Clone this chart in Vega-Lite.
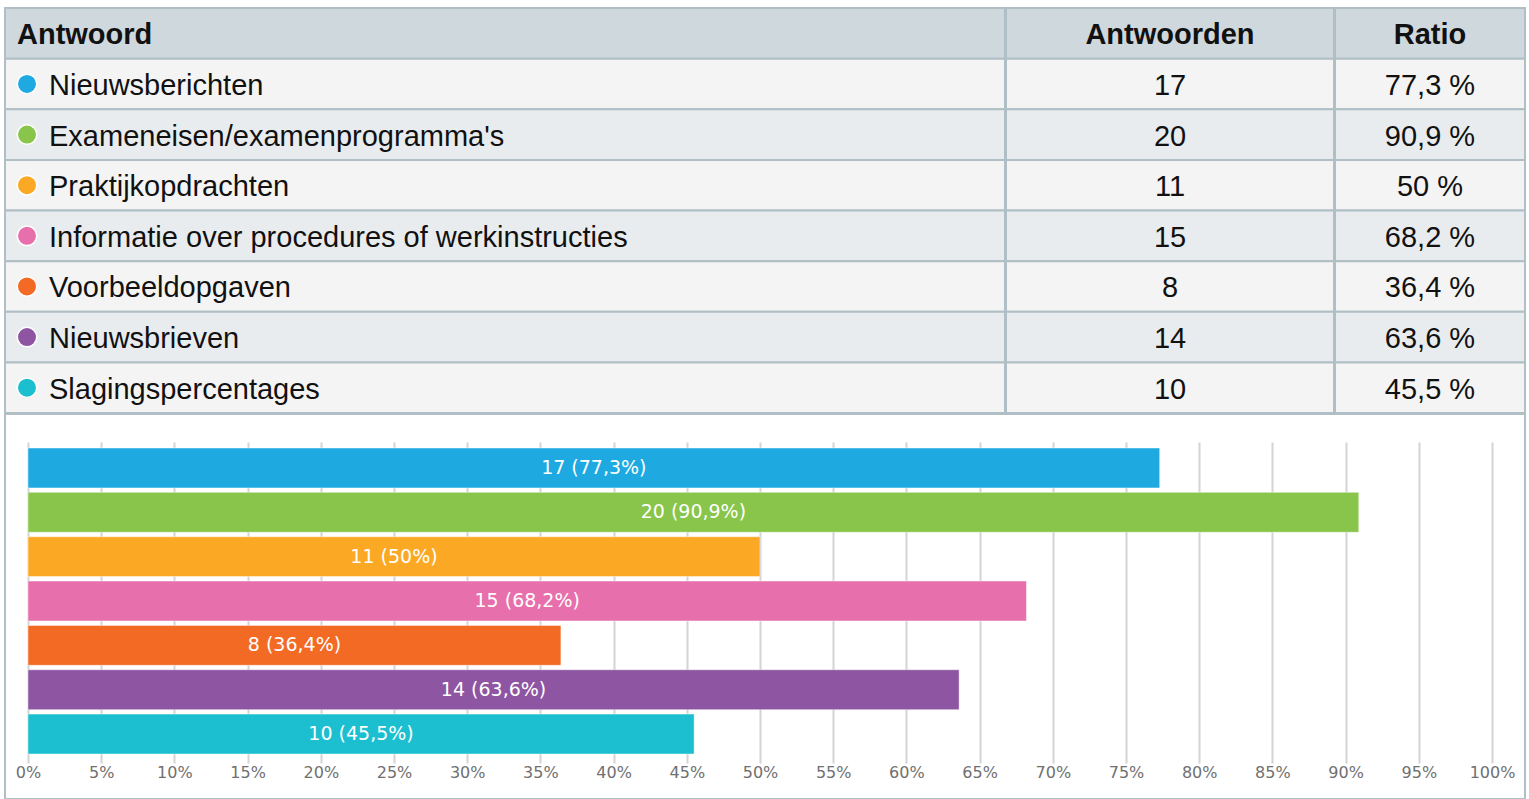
{
  "$schema": "https://vega.github.io/schema/vega-lite/v6.json",
  "padding": {"left": 4, "top": 7, "right": 2, "bottom": 0},
  "background": "white",
  "config": {"view": {"stroke": null}},
  "datasets": {
    "antwoorden": [
      {"antwoord": "Nieuwsberichten", "aantal": 17, "ratio": 77.3, "ratio_tekst": "77,3 %", "label": "17 (77,3%)"},
      {"antwoord": "Exameneisen/examenprogramma's", "aantal": 20, "ratio": 90.9, "ratio_tekst": "90,9 %", "label": "20 (90,9%)"},
      {"antwoord": "Praktijkopdrachten", "aantal": 11, "ratio": 50, "ratio_tekst": "50 %", "label": "11 (50%)"},
      {"antwoord": "Informatie over procedures of werkinstructies", "aantal": 15, "ratio": 68.2, "ratio_tekst": "68,2 %", "label": "15 (68,2%)"},
      {"antwoord": "Voorbeeldopgaven", "aantal": 8, "ratio": 36.4, "ratio_tekst": "36,4 %", "label": "8 (36,4%)"},
      {"antwoord": "Nieuwsbrieven", "aantal": 14, "ratio": 63.6, "ratio_tekst": "63,6 %", "label": "14 (63,6%)"},
      {"antwoord": "Slagingspercentages", "aantal": 10, "ratio": 45.5, "ratio_tekst": "45,5 %", "label": "10 (45,5%)"}
    ]
  },
  "spacing": -2,
  "resolve": {"scale": {"x": "independent", "y": "independent", "color": "independent", "fill": "independent"}},
  "vconcat": [
    {
      "spacing": -2,
      "resolve": {"scale": {"y": "shared", "fill": "shared", "color": "shared"}},
      "hconcat": [
        {
          "width": 1000,
          "height": 405,
          "layer": [
            {
              "data": {"values": [{"kolom": "Antwoord"}]},
              "mark": {"type": "rect", "fill": "#CFD8DC", "stroke": "#B0BEC5", "strokeWidth": 2},
              "encoding": {
                "y": {"datum": "kop", "type": "nominal", "scale": {"domain": ["kop", "Nieuwsberichten", "Exameneisen/examenprogramma's", "Praktijkopdrachten", "Informatie over procedures of werkinstructies", "Voorbeeldopgaven", "Nieuwsbrieven", "Slagingspercentages"], "paddingInner": 0, "paddingOuter": 0}, "axis": null},
                "x": {"value": 0},
                "x2": {"value": "width"}
              }
            },
            {
              "data": {"values": [{"kolom": "Antwoord"}]},
              "mark": {"type": "text", "font": "Liberation Sans", "fontSize": 29, "fontWeight": "bold", "align": "left", "baseline": "middle", "dy": 2, "color": "#111111"},
              "encoding": {
                "y": {"datum": "kop", "type": "nominal"},
                "x": {"value": 12},
                "text": {"field": "kolom"}
              }
            },
            {
              "data": {"name": "antwoorden"},
              "mark": {"type": "rect", "stroke": "#B0BEC5", "strokeWidth": 2},
              "encoding": {
                "y": {"field": "antwoord", "type": "nominal"},
                "x": {"value": 0},
                "x2": {"value": "width"},
                "fill": {"field": "antwoord", "type": "nominal", "legend": null, "scale": {"domain": ["Nieuwsberichten", "Exameneisen/examenprogramma's", "Praktijkopdrachten", "Informatie over procedures of werkinstructies", "Voorbeeldopgaven", "Nieuwsbrieven", "Slagingspercentages"], "range": ["#F4F4F4", "#E9ECEE", "#F4F4F4", "#E9ECEE", "#F4F4F4", "#E9ECEE", "#F4F4F4"]}}
              }
            },
            {
              "data": {"name": "antwoorden"},
              "mark": {"type": "point", "shape": "circle", "filled": true, "size": 380, "opacity": 1, "stroke": "white", "strokeWidth": 1.5},
              "encoding": {
                "y": {"field": "antwoord", "type": "nominal"},
                "x": {"value": 22},
                "color": {"field": "antwoord", "type": "nominal", "legend": null, "scale": {"domain": ["Nieuwsberichten", "Exameneisen/examenprogramma's", "Praktijkopdrachten", "Informatie over procedures of werkinstructies", "Voorbeeldopgaven", "Nieuwsbrieven", "Slagingspercentages"], "range": ["#1EA9E1", "#88C54A", "#FBA925", "#E76FAB", "#F26A24", "#8E55A2", "#1CBFCF"]}}
              }
            },
            {
              "data": {"name": "antwoorden"},
              "mark": {"type": "text", "font": "Liberation Sans", "fontSize": 29, "align": "left", "baseline": "middle", "dy": 2, "color": "#111111"},
              "encoding": {
                "y": {"field": "antwoord", "type": "nominal"},
                "x": {"value": 44},
                "text": {"field": "antwoord"}
              }
            }
          ]
        },
        {
          "width": 328,
          "height": 405,
          "layer": [
            {
              "data": {"values": [{"kolom": "Antwoorden"}]},
              "mark": {"type": "rect", "fill": "#CFD8DC", "stroke": "#B0BEC5", "strokeWidth": 2},
              "encoding": {
                "y": {"datum": "kop", "type": "nominal", "axis": null},
                "x": {"value": 0},
                "x2": {"value": "width"}
              }
            },
            {
              "data": {"values": [{"kolom": "Antwoorden"}]},
              "mark": {"type": "text", "font": "Liberation Sans", "fontSize": 29, "fontWeight": "bold", "align": "center", "baseline": "middle", "dy": 2, "color": "#111111"},
              "encoding": {
                "y": {"datum": "kop", "type": "nominal"},
                "text": {"field": "kolom"}
              }
            },
            {
              "data": {"name": "antwoorden"},
              "mark": {"type": "rect", "stroke": "#B0BEC5", "strokeWidth": 2},
              "encoding": {
                "y": {"field": "antwoord", "type": "nominal"},
                "x": {"value": 0},
                "x2": {"value": "width"},
                "fill": {"field": "antwoord", "type": "nominal", "legend": null}
              }
            },
            {
              "data": {"name": "antwoorden"},
              "mark": {"type": "text", "font": "Liberation Sans", "fontSize": 29, "align": "center", "baseline": "middle", "dy": 2, "color": "#111111"},
              "encoding": {
                "y": {"field": "antwoord", "type": "nominal"},
                "text": {"field": "aantal", "type": "quantitative"}
              }
            }
          ]
        },
        {
          "width": 190,
          "height": 405,
          "layer": [
            {
              "data": {"values": [{"kolom": "Ratio"}]},
              "mark": {"type": "rect", "fill": "#CFD8DC", "stroke": "#B0BEC5", "strokeWidth": 2},
              "encoding": {
                "y": {"datum": "kop", "type": "nominal", "axis": null},
                "x": {"value": 0},
                "x2": {"value": "width"}
              }
            },
            {
              "data": {"values": [{"kolom": "Ratio"}]},
              "mark": {"type": "text", "font": "Liberation Sans", "fontSize": 29, "fontWeight": "bold", "align": "center", "baseline": "middle", "dy": 2, "color": "#111111"},
              "encoding": {
                "y": {"datum": "kop", "type": "nominal"},
                "text": {"field": "kolom"}
              }
            },
            {
              "data": {"name": "antwoorden"},
              "mark": {"type": "rect", "stroke": "#B0BEC5", "strokeWidth": 2},
              "encoding": {
                "y": {"field": "antwoord", "type": "nominal"},
                "x": {"value": 0},
                "x2": {"value": "width"},
                "fill": {"field": "antwoord", "type": "nominal", "legend": null}
              }
            },
            {
              "data": {"name": "antwoorden"},
              "mark": {"type": "text", "font": "Liberation Sans", "fontSize": 29, "align": "center", "baseline": "middle", "dy": 2, "color": "#111111"},
              "encoding": {
                "y": {"field": "antwoord", "type": "nominal"},
                "text": {"field": "ratio_tekst"}
              }
            }
          ]
        }
      ]
    },
    {
      "width": 1520,
      "height": 385,
      "view": {"stroke": "#B0BEC5", "strokeWidth": 2},
      "data": {"name": "antwoorden"},
      "resolve": {"scale": {"x": "independent"}},
      "layer": [
        {
          "mark": {"type": "bar", "stroke": "white", "strokeOpacity": 0.45, "strokeWidth": 1},
          "encoding": {
            "y": {"field": "antwoord", "type": "nominal", "sort": null, "axis": null, "scale": {"domain": ["Nieuwsberichten", "Exameneisen/examenprogramma's", "Praktijkopdrachten", "Informatie over procedures of werkinstructies", "Voorbeeldopgaven", "Nieuwsbrieven", "Slagingspercentages"], "range": [34, 340], "paddingInner": 0.1, "paddingOuter": 0}},
            "x": {
              "field": "ratio", "type": "quantitative",
              "scale": {"domain": [0, 100], "range": [23, 1487], "nice": false},
              "axis": {
                "orient": "bottom", "offset": -36, "zindex": 0,
                "values": [0, 5, 10, 15, 20, 25, 30, 35, 40, 45, 50, 55, 60, 65, 70, 75, 80, 85, 90, 95, 100],
                "domain": false, "grid": false, "ticks": true, "tickSize": -321, "tickColor": "#D4D4D4", "tickWidth": 2,
                "labelExpr": "datum.value + '%'", "labelFont": "DejaVu Sans", "labelFontSize": 16, "labelColor": "#707070",
                "labelPadding": 322, "labelBaseline": "top", "labelFlush": false, "labelOverlap": false, "title": null
              }
            },
            "color": {"field": "antwoord", "type": "nominal", "legend": null, "scale": {"domain": ["Nieuwsberichten", "Exameneisen/examenprogramma's", "Praktijkopdrachten", "Informatie over procedures of werkinstructies", "Voorbeeldopgaven", "Nieuwsbrieven", "Slagingspercentages"], "range": ["#1EA9E1", "#88C54A", "#FBA925", "#E76FAB", "#F26A24", "#8E55A2", "#1CBFCF"]}}
          }
        },
        {
          "mark": {"type": "text", "color": "white", "font": "DejaVu Sans", "fontSize": 19, "baseline": "middle", "align": "center"},
          "encoding": {
            "y": {"field": "antwoord", "type": "nominal", "sort": null, "axis": null},
            "x": {"field": "ratio", "type": "quantitative", "scale": {"domain": [0, 200], "range": [23, 1487], "nice": false}, "axis": null},
            "text": {"field": "label"}
          }
        }
      ]
    }
  ]
}
